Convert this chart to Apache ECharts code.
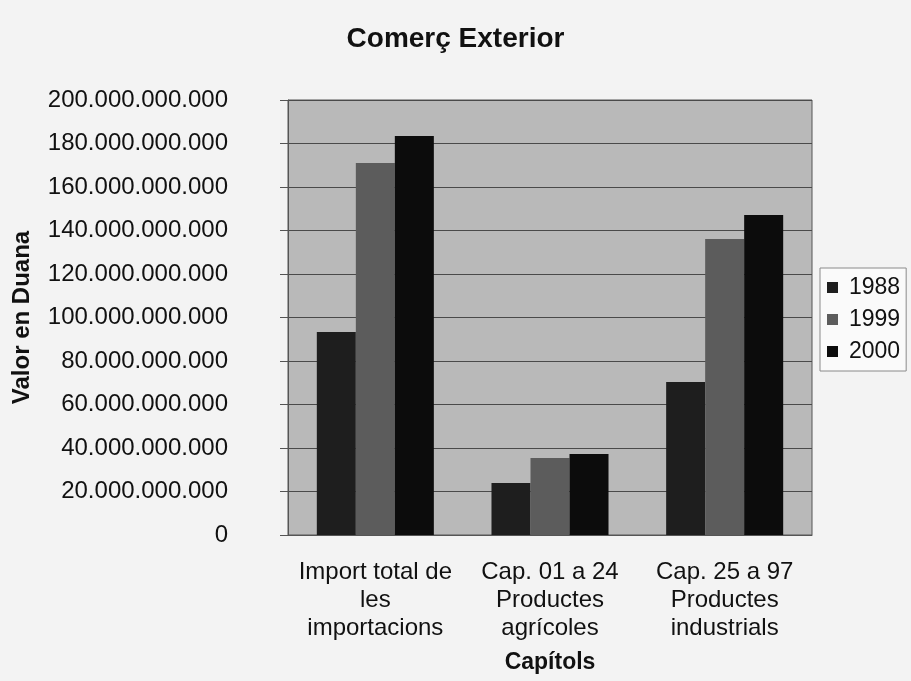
<!DOCTYPE html>
<html>
<head>
<meta charset="utf-8">
<script src="https://cdn.jsdelivr.net/npm/echarts@6/dist/echarts.min.js"></script>
<style>
  html, body { margin: 0; padding: 0; background: #f3f3f3; }
  #chart { width: 911px; height: 681px; }
</style>
</head>
<body>
<div id="chart"></div>
<script>
const categories = [
  'Import total de\nles\nimportacions',
  'Cap. 01 a 24\nProductes\nagrícoles',
  'Cap. 25 a 97\nProductes\nindustrials'
]
const years = ['1988', '1999', '2000']
const values1988 = [93.3e9, 23.9e9, 70.3e9]
const values1999 = [171.0e9, 35.4e9, 136.1e9]
const values2000 = [183.4e9, 37.2e9, 147.1e9]
const seriesColors = ['#1e1e1e', '#5c5c5c', '#0c0c0c']

const font = '"Liberation Sans", Arial, sans-serif'

const fmtThousands = (v) => {
  return String(Math.round(v)).replace(/\B(?=(\d{3})+(?!\d))/g, '.')
}

const chart = echarts.init(document.getElementById('chart'))

const makeSeries = (name, data, color) => ({
  name: name,
  type: 'bar',
  data: data,
  barGap: '0%',
  barCategoryGap: '33%',
  itemStyle: { color: color },
  emphasis: { disabled: true }
})

chart.setOption({
  backgroundColor: '#f3f3f3',
  animation: false,
  textStyle: { fontFamily: font },
  title: {
    text: 'Comerç Exterior',
    left: 'center',
    top: 20,
    textStyle: { fontFamily: font, fontSize: 28, fontWeight: 'bold', color: '#111' }
  },
  legend: {
    orient: 'vertical',
    left: 820,
    top: 268,
    itemWidth: 11,
    itemHeight: 11,
    itemGap: 9,
    padding: [8, 6, 8, 7],
    backgroundColor: '#fafafa',
    borderColor: '#8a8a8a',
    borderWidth: 1,
    icon: 'rect',
    data: years,
    textStyle: { fontFamily: font, fontSize: 23, color: '#111', padding: [0, 0, 0, 6] }
  },
  grid: {
    left: 288,
    right: 99,
    top: 100,
    bottom: 146,
    containLabel: false,
    outerBoundsMode: 'none',
    show: true,
    backgroundColor: '#b9b9b9',
    borderColor: '#555',
    borderWidth: 1
  },
  xAxis: {
    type: 'category',
    data: categories,
    name: 'Capítols',
    nameLocation: 'middle',
    nameGap: 116,
    nameTextStyle: { fontFamily: font, fontSize: 23, fontWeight: 'bold', color: '#111', verticalAlign: 'top' },
    axisLine: { lineStyle: { color: '#555' } },
    axisTick: { length: 8, lineStyle: { color: '#555' } },
    axisLabel: {
      margin: 23,
      fontFamily: font,
      fontSize: 24,
      lineHeight: 28,
      color: '#111',
      interval: 0
    }
  },
  yAxis: {
    type: 'value',
    min: 0,
    max: 200e9,
    interval: 20e9,
    name: 'Valor en Duana',
    nameLocation: 'middle',
    nameRotate: 90,
    nameGap: 254,
    nameTextStyle: { fontFamily: font, fontSize: 24, fontWeight: 'bold', color: '#111' },
    axisLine: { show: true, lineStyle: { color: '#555' } },
    axisTick: { show: true, length: 8, lineStyle: { color: '#555' } },
    axisLabel: {
      margin: 60,
      fontFamily: font,
      fontSize: 24,
      color: '#111',
      formatter: fmtThousands
    },
    splitLine: { lineStyle: { color: '#4a4a4a', width: 1 } }
  },
  series: [
    makeSeries(years[0], values1988, seriesColors[0]),
    makeSeries(years[1], values1999, seriesColors[1]),
    makeSeries(years[2], values2000, seriesColors[2])
  ]
})
</script>
</body>
</html>
